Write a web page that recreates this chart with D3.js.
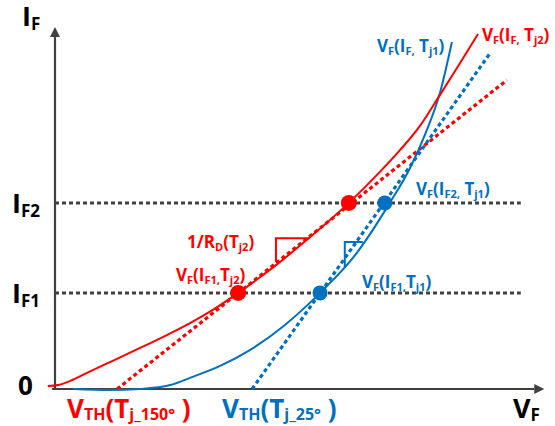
<!DOCTYPE html>
<html>
<head>
<meta charset="utf-8">
<script src="https://cdn.jsdelivr.net/npm/d3@7"></script>
<style>
  body { margin: 0; background: #fff; }
  text { font-family: "Open Sans", "Noto Sans", sans-serif; font-weight: bold; }
</style>
</head>
<body>
<div id="chart"></div>
<script>
// forward current vs forward voltage at two junction temperatures
const curveTj2 = [[-1.6, 0.8], [0.7, 1.1], [3.3, 2.2], [7.8, 4.9], [13.3, 8.1], [18.9, 11.4],
    [24.4, 14.7], [30.0, 18.3], [35.6, 22.4], [40.7, 26.7], [49.1, 34.4], [56.7, 42.2],
    [65.3, 51.7], [72.2, 60.3], [76.7, 66.4], [81.1, 73.1], [85.1, 80.8], [89.6, 89.7], [94.0, 98.6]];
const curveTj1 = [[4.0, 0], [12.2, -0.3], [18.9, 0], [25.6, 1.1], [30.0, 3.1], [36.7, 6.4],
    [43.3, 10.8], [51.1, 17.8], [58.9, 26.7], [66.7, 37.2], [74.4, 51.7], [78.9, 61.4],
    [82.2, 70.6], [85.6, 82.5], [88.2, 96.4]];
const tangentTj2 = [[13.8, 0], [100.4, 85.8]];
const tangentTj1 = [[43.8, 0], [96.7, 93.3]];
const levelNames = ["F1", "F2"];
const levelValues = [26.7, 51.7];
const pointsTj2 = [40.7, 65.3];
const pointsTj1 = [58.9, 73.3];
const slopeTj2 = [[49.1, 35.3], [49.1, 41.9], [56.7, 41.9]];
const slopeTj1 = [[64.4, 33.9], [64.4, 40.8], [68.4, 40.8]];

const RED = "#ff0000";
const BLUE = "#0070c0";
const GREY = "#404040";

const width = 555, height = 426;

const x = d3.scaleLinear().domain([0, 100]).range([55, 505]);
const y = d3.scaleLinear().domain([0, 100]).range([389, 29]);

const svg = d3.select("#chart")
    .append("svg")
        .attr("width", width)
        .attr("height", height);

const line = d3.line()
    .x(d => x(d[0]))
    .y(d => y(d[1]));

const smooth = d3.line()
    .x(d => x(d[0]))
    .y(d => y(d[1]))
    .curve(d3.curveMonotoneX);

// horizontal current levels
svg.selectAll(".level")
    .data(levelValues)
    .join("line")
        .attr("x1", x(0))
        .attr("x2", x(103.5))
        .attr("y1", d => y(d))
        .attr("y2", d => y(d))
        .attr("stroke", GREY)
        .attr("stroke-width", 3)
        .attr("stroke-dasharray", "4,3");

// axes with arrows
svg.append("line")
    .attr("x1", x(0)).attr("y1", y(0))
    .attr("x2", x(0)).attr("y2", y(0) - 352)
    .attr("stroke", GREY).attr("stroke-width", 2.2);
svg.append("path")
    .attr("d", `M${x(0)},${y(0) - 362} l-5,10 l10,0 z`)
    .attr("fill", GREY);
svg.append("line")
    .attr("x1", x(0) - 3).attr("y1", y(0))
    .attr("x2", x(106.5)).attr("y2", y(0))
    .attr("stroke", GREY).attr("stroke-width", 2.2);
svg.append("path")
    .attr("d", `M${x(106.5) + 10},${y(0)} l-10,-5 l0,10 z`)
    .attr("fill", GREY);

// tangent lines
svg.append("path")
    .datum(tangentTj2)
    .attr("d", line)
    .attr("fill", "none")
    .attr("stroke", RED)
    .attr("stroke-width", 3.2)
    .attr("stroke-dasharray", "4,3");
svg.append("path")
    .datum(tangentTj1)
    .attr("d", line)
    .attr("fill", "none")
    .attr("stroke", BLUE)
    .attr("stroke-width", 3.2)
    .attr("stroke-dasharray", "4,3");

// characteristic curves
svg.append("path")
    .datum(curveTj1)
    .attr("d", smooth)
    .attr("fill", "none")
    .attr("stroke", BLUE)
    .attr("stroke-width", 2);
svg.append("path")
    .datum(curveTj2)
    .attr("d", smooth)
    .attr("fill", "none")
    .attr("stroke", RED)
    .attr("stroke-width", 2);

// slope triangles
svg.append("path")
    .datum(slopeTj2)
    .attr("d", line)
    .attr("fill", "none")
    .attr("stroke", RED)
    .attr("stroke-width", 2);
svg.append("path")
    .datum(slopeTj1)
    .attr("d", line)
    .attr("fill", "none")
    .attr("stroke", BLUE)
    .attr("stroke-width", 2);

// operating points
svg.selectAll(".pt2")
    .data(pointsTj2)
    .join("circle")
        .attr("cx", d => x(d))
        .attr("cy", (d, i) => y(levelValues[i]))
        .attr("r", 8)
        .attr("fill", RED);
svg.selectAll(".pt1")
    .data(pointsTj1)
    .join("circle")
        .attr("cx", d => x(d))
        .attr("cy", (d, i) => y(levelValues[i]))
        .attr("r", 7.5)
        .attr("fill", BLUE);

// text with subscripts
function label(px, py, parts, size, color, shift = 0.18) {
    const t = svg.append("text")
        .attr("x", px)
        .attr("y", py)
        .attr("fill", color)
        .attr("font-size", size);
    let sub = false;
    parts.forEach(p => {
        const isSub = p[1];
        const span = t.append("tspan").text(p[0]);
        if (isSub) span.attr("font-size", Math.round(size * 0.62));
        if (isSub && !sub) span.attr("dy", size * shift);
        if (!isSub && sub) span.attr("dy", -size * shift);
        sub = isSub;
    });
    return t;
}

label(22, 26, [["I"], ["F", true]], 27, "#000", 0.14);
levelNames.forEach((n, i) => {
    label(12, y(levelValues[i]) + 10, [["I"], [n, true]], 27, "#000", 0.14);
});
label(18, 395, [["0"]], 26, "#000");
label(513, 418, [["V"], ["F", true]], 27, "#000", 0.1);

label(67, 418, [["V"], ["TH", true], ["(T"], ["j_150°", true], [" )"]], 26, RED, 0.08);
label(222, 418, [["V"], ["TH", true], ["(T"], ["j_25°", true], [" )"]], 26, BLUE, 0.08);

label(377, 52, [["V"], ["F", true], ["(I"], ["F,", true], [" T"], ["j1", true], [")"]], 17, BLUE);
label(482, 41, [["V"], ["F", true], ["(I"], ["F,", true], [" T"], ["j2", true], [")"]], 17, RED);
label(416, 195, [["V"], ["F", true], ["(I"], ["F2,", true], [" T"], ["j1", true], [")"]], 17, BLUE);
label(187, 248, [["1/R"], ["D", true], ["(T"], ["j2", true], [")"]], 17, RED);
label(176, 281, [["V"], ["F", true], ["(I"], ["F1,", true], ["T"], ["j2", true], [")"]], 17, RED);
label(362, 288, [["V"], ["F", true], ["(I"], ["F1,", true], ["T"], ["j1", true], [")"]], 17, BLUE);
</script>
</body>
</html>
